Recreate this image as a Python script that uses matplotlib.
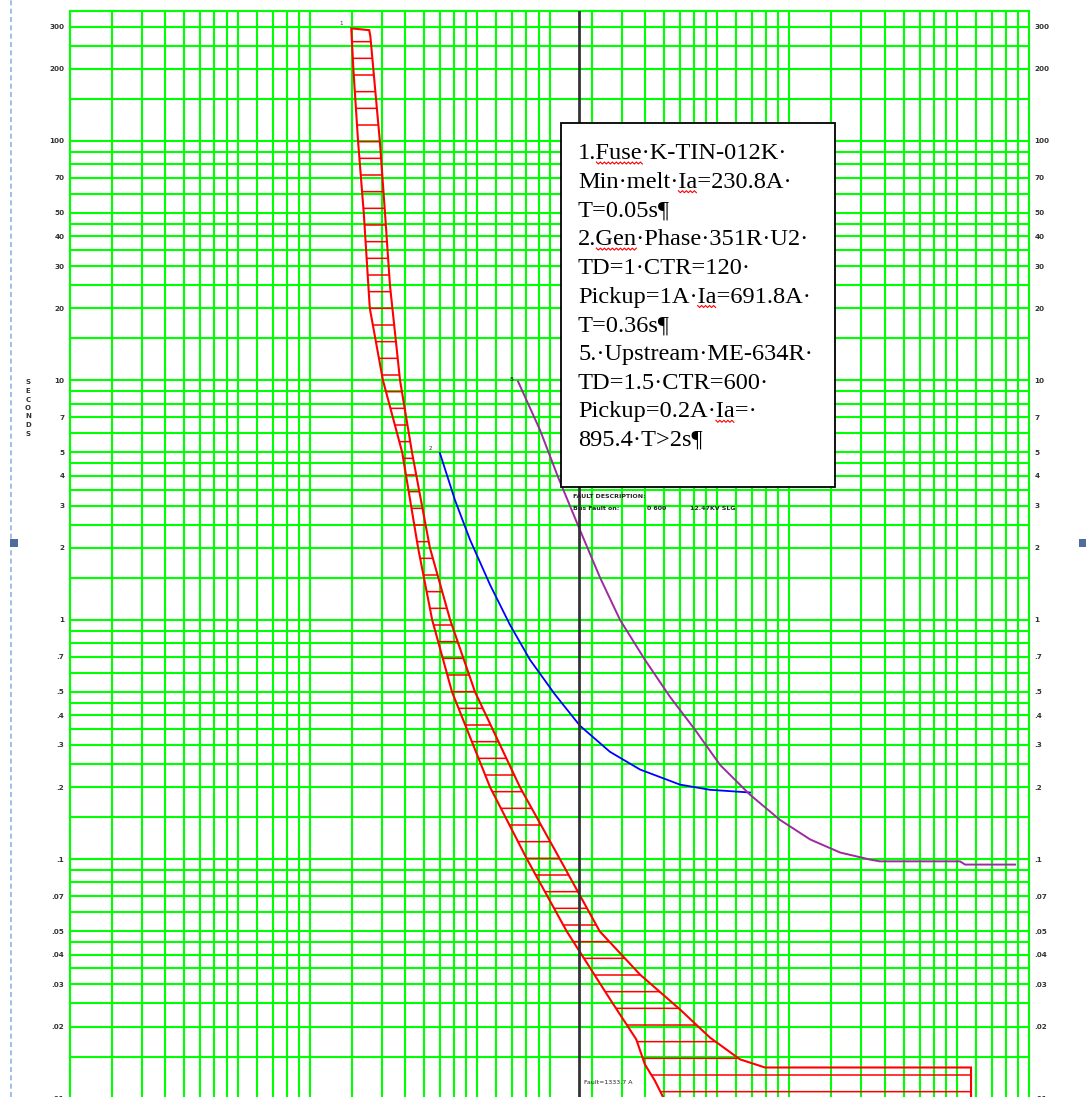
import numpy as np
import matplotlib
matplotlib.use("Agg")
import matplotlib.pyplot as plt
from matplotlib.patches import Rectangle, Polygon
from matplotlib.ticker import FixedLocator, NullFormatter

W, H = 1086, 1097

# ---- device curves (current axis in amperes x 10, time in s) ----
# 1. Fuse K-TIN-012K : minimum melt and total clear boundaries
fuse_min_i = [14.9, 15.2, 15.9, 16.8, 17.8, 20.2, 24.3, 28.3, 32.4, 39.2, 56.5,
              80.6, 118, 179, 230, 250, 275, 300]
fuse_min_t = [295, 200, 100, 50, 20, 10, 5, 2, 1, 0.5, 0.2,
              0.1, 0.05, 0.026, 0.0177, 0.0139, 0.0119, 0.01]
fuse_clr_i = [17.7, 17.9, 19.6, 20.6, 21.6, 23.8, 26.7, 31.7, 38.5, 48.9, 75.3,
              110.6, 162, 238.5, 350, 467, 623, 792, 5730, 5730]
fuse_clr_t = [290, 273, 100, 50, 25, 10, 5, 2, 1, 0.5, 0.2,
              0.1, 0.05, 0.033, 0.0236, 0.018, 0.0146, 0.0135, 0.0135, 0.01]

# 2. Gen Phase 351R U2
gen_i = [34.9, 40.3, 46.6, 56.5, 68.4, 82.9, 105.5, 134, 178.7, 238.5, 350, 467, 686]
gen_t = [4.97, 3.17, 2.16, 1.40, 0.953, 0.681, 0.487, 0.361, 0.281, 0.237, 0.205, 0.195, 0.19]

# 5. Upstream ME-634R
up_i = [73.9, 91.3, 108.5, 134, 162.5, 196.8, 250, 318, 404, 514, 686, 915,
        1222, 1629, 2171, 2389, 5155, 5410, 8750]
up_t = [9.9, 6.2, 3.95, 2.37, 1.50, 1.0, 0.681, 0.477, 0.348, 0.248, 0.186, 0.146,
        0.121, 0.1067, 0.0997, 0.098, 0.098, 0.095, 0.095]

fault_current = 1333.7      # amperes
current_scale = 10          # axis reads amperes x 10

ytick_vals = [300, 200, 100, 70, 50, 40, 30, 20, 10, 7, 5, 4, 3, 2, 1,
              .7, .5, .4, .3, .2, .1, .07, .05, .04, .03, .02, .01]
ytick_text = ["300", "200", "100", "70", "50", "40", "30", "20", "10", "7", "5", "4",
              "3", "2", "1", ".7", ".5", ".4", ".3", ".2", ".1", ".07", ".05", ".04",
              ".03", ".02", ".01"]

grid_mults = [1, 1.5, 2, 2.5, 3, 3.5, 4, 4.5, 5, 6, 7, 8, 9]

legend_lines = [
    "1.Fuse\u00b7K-TIN-012K\u00b7",
    "Min\u00b7melt\u00b7Ia=230.8A\u00b7",
    "T=0.05s\u00b6",
    "2.Gen\u00b7Phase\u00b7351R\u00b7U2\u00b7",
    "TD=1\u00b7CTR=120\u00b7",
    "Pickup=1A\u00b7Ia=691.8A\u00b7",
    "T=0.36s\u00b6",
    "5.\u00b7Upstream\u00b7ME-634R\u00b7",
    "TD=1.5\u00b7CTR=600\u00b7",
    "Pickup=0.2A\u00b7Ia=\u00b7",
    "895.4\u00b7T>2s\u00b6",
]
# words flagged by the spell checker: (line, text before the word, word)
flagged = [(0, "1.", "Fuse"), (1, "Min\u00b7melt\u00b7", "Ia"), (3, "2.", "Gen"),
           (5, "Pickup=1A\u00b7", "Ia"), (9, "Pickup=0.2A\u00b7", "Ia")]

# ---- figure / axes ----
fig = plt.figure(figsize=(W / 100, H / 100), dpi=100)
fig.patch.set_facecolor("white")


def fx(px):
    return px / W


def fy(py):
    return 1 - py / H


ax = fig.add_axes([fx(70), fy(1098.7), (1029 - 70) / W, (1098.7 - 10.6) / H])
ax.set_xscale("log")
ax.set_yscale("log")
ax.set_xlim(1, 10000)
ax.set_ylim(0.01, 350)

green = "#00ff00"
xgrid = [m * 10 ** k for k in range(0, 4) for m in grid_mults] + [10000]
ygrid = [m * 10 ** k for k in range(-2, 2) for m in grid_mults] + \
        [m * 100 for m in grid_mults if m <= 3.5]

ax.xaxis.set_major_locator(FixedLocator([]))
ax.xaxis.set_minor_locator(FixedLocator(xgrid))
ax.xaxis.set_minor_formatter(NullFormatter())
ax.set_yticks(ytick_vals, ytick_text)
ax.yaxis.set_minor_locator(FixedLocator(ygrid))
ax.yaxis.set_minor_formatter(NullFormatter())
ax.grid(which="both", color=green, lw=1.5)
ax.set_axisbelow(True)
ax.tick_params(axis="both", which="both", length=0)
ax.tick_params(axis="y", which="major", labelsize=5.2, pad=4, labelleft=True,
               labelright=True, labelcolor="#333333")
for lab in ax.get_yticklabels():
    lab.set_fontweight("bold")
for s in ax.spines.values():
    s.set_color(green)
    s.set_linewidth(1.5)

# fuse band (hatched)
band_i = fuse_min_i + fuse_clr_i[::-1]
band_t = fuse_min_t + fuse_clr_t[::-1]
plt.rcParams["hatch.linewidth"] = 1.1
band = Polygon(np.column_stack([band_i, band_t]), closed=True, facecolor="none",
               edgecolor="#ff0000", hatch="-", lw=1.5, zorder=3)
ax.add_patch(band)

ax.plot(gen_i, gen_t, color="#0000ff", lw=1.3, zorder=4)
ax.plot(up_i, up_t, color="#9c2aa0", lw=1.4, zorder=4)
ax.axvline(fault_current / current_scale, color="#333333", lw=2, zorder=5)

ax.text(13.5, 308, "1", fontsize=4, color="#333333", ha="center", va="center")
ax.text(32.0, 5.18, "2", fontsize=4, color="#333333", ha="center", va="center")
ax.text(69.1, 10.05, "5", fontsize=4, color="#333333", ha="center", va="center",
        fontweight="bold")

# fault annotations
fig.text(fx(584), fy(1082), f"Fault={fault_current:.1f} A", fontsize=4.5,
         color="#222222", ha="left", va="center", zorder=6)
fig.text(fx(573), fy(496), "FAULT DESCRIPTION:", fontsize=4.5, color="#222222",
         ha="left", va="center", fontweight="bold", zorder=6)
fig.text(fx(573), fy(508), "Bus Fault on:", fontsize=4.5, color="#222222",
         ha="left", va="center", fontweight="bold", zorder=6)
fig.text(fx(647), fy(508), "0 600", fontsize=4.5, color="#222222",
         ha="left", va="center", fontweight="bold", zorder=6)
fig.text(fx(690), fy(508), "12.47KV SLG", fontsize=4.5, color="#222222",
         ha="left", va="center", fontweight="bold", zorder=6)

# axis title stacked vertically
fig.text(fx(28), fy(408), "S\nE\nC\nO\nN\nD\nS", fontsize=5, fontweight="bold",
         color="#333333", ha="center", va="center", linespacing=1.5)

# legend text box
fig.add_artist(Rectangle((fx(561), fy(487)), (835 - 561) / W, (487 - 123) / H,
                         transform=fig.transFigure, facecolor="white",
                         edgecolor="black", lw=1.3, zorder=10))
tx0 = 578
fs = 17.6
baselines = [159 + 28.7 * i for i in range(len(legend_lines))]
for line, yb in zip(legend_lines, baselines):
    fig.text(fx(tx0), fy(yb), line, fontsize=fs, family="Liberation Serif",
             color="black", ha="left", va="baseline", zorder=11)

# wavy spell-check underlines
renderer = fig.canvas.get_renderer()


def text_width(s):
    t = fig.text(0, 0, s, fontsize=fs, family="Liberation Serif")
    w = t.get_window_extent(renderer).width
    t.remove()
    return w


for li, before, word in flagged:
    x0 = tx0 + text_width(before)
    x1 = x0 + text_width(word)
    yb = baselines[li] + 4
    xs = np.arange(x0, x1 + 0.1, 2.0)
    ys = yb + np.where(np.arange(len(xs)) % 2 == 0, -1.0, 1.0)
    fig.add_artist(plt.Line2D(fx(xs), fy(ys), transform=fig.transFigure,
                              color="#ff0000", lw=0.8, zorder=12))

# page margin marks
fig.add_artist(plt.Line2D([fx(11), fx(11)], [0, 1], transform=fig.transFigure,
                          color="#8eb4e3", lw=1.2, ls=(0, (3, 2)), zorder=12))
for px in (14, 1083):
    fig.add_artist(Rectangle((fx(px - 4), fy(547)), 8 / W, 8 / H,
                             transform=fig.transFigure, facecolor="#4f6d9a",
                             edgecolor="none", zorder=12))

fig.savefig("out.png", dpi=100)
